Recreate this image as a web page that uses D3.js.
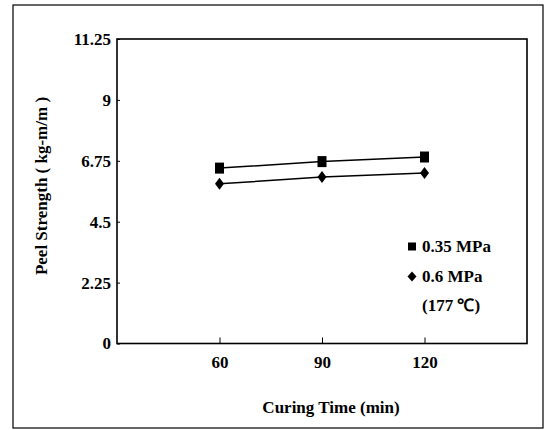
<!DOCTYPE html>
<html>
<head>
<meta charset="utf-8">
<script src="https://cdn.jsdelivr.net/npm/d3@7/dist/d3.min.js"></script>
<style>
  html, body { margin: 0; padding: 0; background: #fff; }
  svg text { font-family: "Liberation Serif", "Times New Roman", serif; font-weight: bold; fill: #000; }
</style>
</head>
<body>
<svg id="chart" width="548" height="430"></svg>
<script>
const curingTimes = [60, 90, 120];
const series035 = [6.48, 6.72, 6.89];
const series06 = [5.90, 6.15, 6.30];
const yTicks = [0, 2.25, 4.5, 6.75, 9, 11.25];
const xTicks = [60, 90, 120];
const legendLabels = ["0.35 MPa", "0.6 MPa", "(177 \u2103)"];

const svg = d3.select("#chart");
const margin = { left: 117, right: 527, top: 39, bottom: 343.5 };
const FS = 17;

const x = d3.scaleLinear().domain([30, 150]).range([margin.left, margin.right]);
const y = d3.scaleLinear().domain([0, 11.25]).range([margin.bottom, margin.top]);

// outer frame
svg.append("rect").attr("x", 13).attr("y", 5).attr("width", 530).attr("height", 423)
  .attr("fill", "none").attr("stroke", "#000").attr("stroke-width", 1.2);

// plot frame
svg.append("rect").attr("x", margin.left).attr("y", margin.top)
  .attr("width", margin.right - margin.left).attr("height", margin.bottom - margin.top)
  .attr("fill", "none").attr("stroke", "#000").attr("stroke-width", 1.6);

// axes
const xAxis = d3.axisBottom(x).tickValues(xTicks).tickSize(-6).tickPadding(12).tickFormat(d3.format("d"));
const gx = svg.append("g").attr("transform", `translate(0,${margin.bottom})`).call(xAxis);
gx.select(".domain").remove();
gx.selectAll(".tick line").attr("stroke", "#000").attr("stroke-width", 1);
gx.selectAll(".tick text").attr("font-size", FS).attr("font-family", "Liberation Serif").attr("font-weight", "bold").attr("fill", "#000");

const yAxis = d3.axisLeft(y).tickValues(yTicks).tickSize(-3).tickPadding(6).tickFormat(d => String(d));
const gy = svg.append("g").attr("transform", `translate(${margin.left},0)`).call(yAxis);
gy.select(".domain").remove();
gy.selectAll(".tick line").attr("stroke", "#000").attr("stroke-width", 1);
gy.selectAll(".tick text").attr("font-size", FS).attr("font-family", "Liberation Serif").attr("font-weight", "bold").attr("fill", "#000");

// axis titles
svg.append("text").attr("x", 331).attr("y", 407).attr("dy", "0.35em")
  .attr("text-anchor", "middle").attr("font-size", FS).text("Curing Time (min)");
svg.append("text").attr("transform", "translate(41,186) rotate(-90)").attr("dy", "0.35em")
  .attr("text-anchor", "middle").attr("font-size", FS).text("Peel Strength ( kg-m/m )");

// lines
const line = d3.line().x((d, i) => x(curingTimes[i])).y(d => y(d));
svg.append("path").datum(series035).attr("d", line).attr("fill", "none").attr("stroke", "#000").attr("stroke-width", 1.5);
svg.append("path").datum(series06).attr("d", line).attr("fill", "none").attr("stroke", "#000").attr("stroke-width", 1.5);

// markers
svg.selectAll(".sq").data(series035).enter().append("rect")
  .attr("x", (d, i) => x(curingTimes[i]) - 4.5).attr("y", d => y(d) - 5.5)
  .attr("width", 9).attr("height", 11).attr("fill", "#000");
svg.selectAll(".dm").data(series06).enter().append("path")
  .attr("d", (d, i) => {
    const cx = x(curingTimes[i]), cy = y(d);
    return `M${cx},${cy - 6}L${cx + 4.5},${cy}L${cx},${cy + 6}L${cx - 4.5},${cy}Z`;
  }).attr("fill", "#000");

// legend
const lx = 412;
const ly = [246.5, 276.5, 305];
svg.append("rect").attr("x", lx - 4).attr("y", ly[0] - 4).attr("width", 8).attr("height", 8).attr("fill", "#000");
svg.append("path").attr("d", `M${lx},${ly[1] - 5}L${lx + 4.5},${ly[1]}L${lx},${ly[1] + 5}L${lx - 4.5},${ly[1]}Z`).attr("fill", "#000");
legendLabels.forEach((t, i) => {
  svg.append("text").attr("x", 422).attr("y", ly[i]).attr("dy", "0.35em").attr("font-size", FS).text(t);
});
</script>
</body>
</html>
